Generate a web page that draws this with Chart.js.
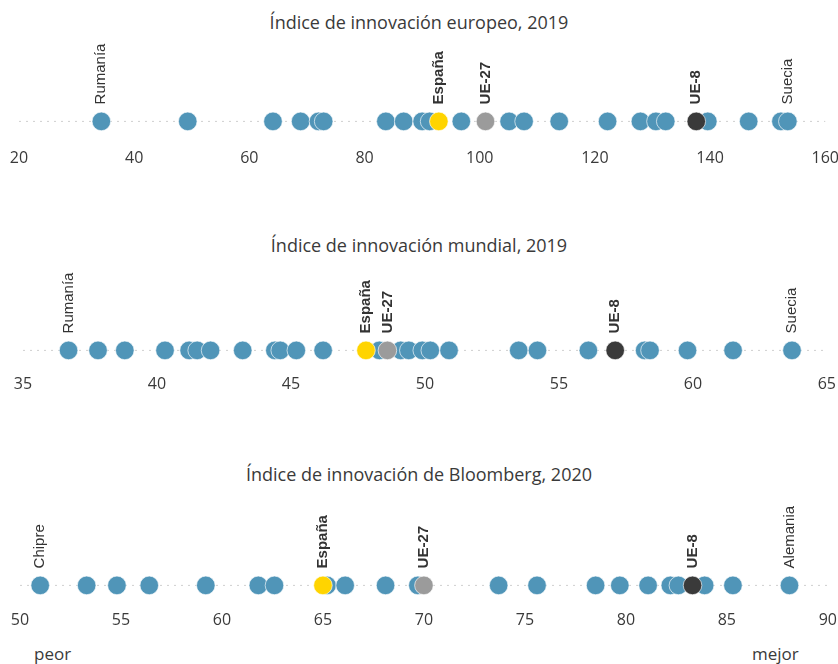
<!DOCTYPE html>
<html>
<head>
<meta charset="utf-8">
<script src="https://cdn.jsdelivr.net/npm/chart.js@4"></script>
<style>
  body { margin: 0; background: #fff; }
  #wrap { position: relative; width: 838px; height: 664px; overflow: hidden; font-family: "Open Sans", sans-serif; }
  .box { position: absolute; left: 0; }
  .title { position: absolute; left: 0; width: 838px; text-align: center; font-size: 18px; color: #3a3a3a; line-height: 22px; }
  .note { position: absolute; font-size: 17px; color: #3a3a3a; line-height: 20px; }
</style>
</head>
<body>
<div id="wrap">
  <div class="title" style="top:11px">Índice de innovación europeo, 2019</div>
  <div class="box" style="top:0px;width:845px;height:178px"><canvas id="c1"></canvas></div>
  <div class="title" style="top:234px">Índice de innovación mundial, 2019</div>
  <div class="box" style="top:220px;width:842px;height:184px"><canvas id="c2"></canvas></div>
  <div class="title" style="top:463px">Índice de innovación de Bloomberg, 2020</div>
  <div class="box" style="top:450px;width:843px;height:190px"><canvas id="c3"></canvas></div>
  <div class="note" style="left:34px;top:644px">peor</div>
  <div class="note" style="left:752px;top:644px">mejor</div>
</div>
<script>
// ---------------- DATA ----------------
// Índice europeo 2019
const euroCountries = [34.3, 49.3, 64.1, 68.9, 72.0, 72.9, 83.7, 86.8, 90.0, 91.3, 96.8, 105.1, 107.7,
  113.8, 122.2, 127.9, 130.6, 132.3, 139.6, 146.7, 152.3, 153.5];
const euroSpain = 92.9;
const euroEU27 = 101.0;
const euroEU8 = 137.6;
const euroEdgeNames = ["Rumanía", "Suecia"];
const euroTicks = [20, 160, 20];

// Índice mundial 2019
const worldCountries = [36.7, 37.8, 38.8, 40.3, 41.2, 41.5, 42.0, 43.2, 44.4, 44.6, 45.2, 46.2, 48.3,
  49.1, 49.4, 49.9, 50.2, 50.9, 53.5, 54.2, 56.1, 58.2, 58.4, 59.8, 61.5, 63.7];
const worldSpain = 47.8;
const worldEU27 = 48.6;
const worldEU8 = 57.1;
const worldEdgeNames = ["Rumanía", "Suecia"];
const worldTicks = [35, 65, 5];

// Bloomberg 2020
const bloomCountries = [51.0, 53.3, 54.8, 56.4, 59.2, 61.8, 62.6, 65.2, 66.1, 68.1, 69.7, 73.7, 75.6,
  78.5, 79.7, 81.1, 82.2, 82.6, 83.9, 85.3, 88.1];
const bloomSpain = 65.0;
const bloomEU27 = 70.0;
const bloomEU8 = 83.3;
const bloomEdgeNames = ["Chipre", "Alemania"];
const bloomTicks = [50, 90, 5];

const specialNames = ["España", "UE-27", "UE-8"];

// ---------------- STYLE ----------------
const colBlue = "#5095b8";
const colSpain = "#ffd400";
const colEU27 = "#9b9b9b";
const colEU8 = "#3a3a3a";

// dotted base line
const baseLine = {
  id: "baseLine",
  beforeDatasetsDraw(chart) {
    const { ctx, chartArea: { left, right }, scales: { y } } = chart;
    const py = y.getPixelForValue(0);
    ctx.save();
    ctx.strokeStyle = "#cfcfcf";
    ctx.lineWidth = 1;
    ctx.setLineDash([2, 5]);
    ctx.beginPath();
    ctx.moveTo(left, py);
    ctx.lineTo(right, py);
    ctx.stroke();
    ctx.restore();
  },
};

// vertical labels above dots
const dotLabels = {
  id: "dotLabels",
  afterDatasetsDraw(chart) {
    const ctx = chart.ctx;
    chart.data.datasets.forEach((ds, i) => {
      if (!ds.tags) return;
      const meta = chart.getDatasetMeta(i);
      ds.tags.forEach((t) => {
        const el = meta.data[t.index];
        ctx.save();
        ctx.translate(el.x, el.y - 17);
        ctx.rotate(-Math.PI / 2);
        ctx.font = (t.bold ? "bold " : "") + "15px 'Liberation Sans', Arial, sans-serif";
        ctx.fillStyle = "#333";
        ctx.textAlign = "left";
        ctx.textBaseline = "middle";
        ctx.fillText(t.text, 0, 0);
        ctx.restore();
      });
    });
  },
};

function pt(v) {
  return { x: v, y: 0 };
}

function dotSet(values, color, order, tags) {
  return {
    data: values.map(pt),
    backgroundColor: color,
    borderColor: "rgba(255,255,255,0.8)",
    borderWidth: 0.8,
    pointRadius: 9.3,
    order: order,
    tags: tags,
  };
}

function makeChart(id, countries, spain, eu27, eu8, edgeNames, ticks, padTop, padLeft) {
  const datasets = [
    dotSet(countries, colBlue, 10, [
      { index: 0, text: edgeNames[0] },
      { index: countries.length - 1, text: edgeNames[1] },
    ]),
    dotSet([spain], colSpain, 1, [{ index: 0, text: specialNames[0], bold: true }]),
    dotSet([eu27], colEU27, 1, [{ index: 0, text: specialNames[1], bold: true }]),
    dotSet([eu8], colEU8, 1, [{ index: 0, text: specialNames[2], bold: true }]),
  ];
  return new Chart(document.getElementById(id), {
    type: "scatter",
    data: { datasets: datasets },
    options: {
      responsive: true,
      maintainAspectRatio: false,
      animation: false,
      events: [],
      layout: { padding: { top: padTop, left: padLeft, right: 0, bottom: 4 } },
      plugins: { legend: { display: false }, tooltip: { enabled: false } },
      scales: {
        x: {
          type: "linear",
          min: ticks[0],
          max: ticks[1],
          grid: { display: false, drawTicks: false },
          border: { display: false },
          ticks: {
            stepSize: ticks[2],
            padding: 6,
            color: "#3a3a3a",
            font: { family: "'Open Sans', sans-serif", size: 16 },
          },
        },
        y: { display: false, min: -1, max: 1 },
      },
    },
    plugins: [baseLine, dotLabels],
  });
}

makeChart("c1", euroCountries, euroSpain, euroEU27, euroEU8, euroEdgeNames, euroTicks, 100, 19);
makeChart("c2", worldCountries, worldSpain, worldEU27, worldEU8, worldEdgeNames, worldTicks, 112, 23);
makeChart("c3", bloomCountries, bloomSpain, bloomEU27, bloomEU8, bloomEdgeNames, bloomTicks, 116, 20);
</script>
</body>
</html>
